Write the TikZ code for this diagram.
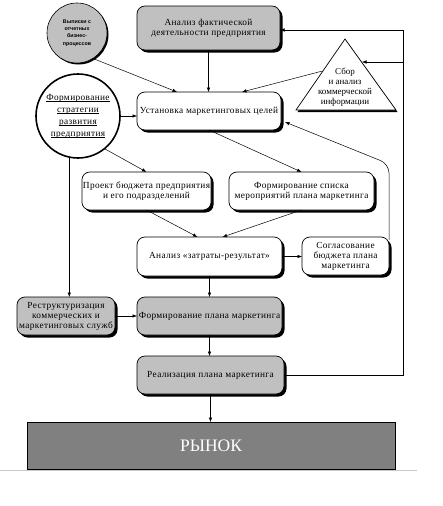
\documentclass[tikz,border=0pt]{standalone}
\usepackage{fontspec}
\setmainfont{Liberation Serif}
\newfontfamily\smallsans{Liberation Sans}
\newfontfamily\boxfont[LetterSpace=4]{Liberation Serif}
\usetikzlibrary{shadows,calc,arrows.meta}
\definecolor{lg}{HTML}{C0C0C0}
\definecolor{dg}{HTML}{808080}
\definecolor{pageline}{HTML}{C8C8C8}
\newcommand{\myul}[1]{\leavevmode\setbox0=\hbox{#1}\rlap{\rule[-1.6pt]{\wd0}{0.5pt}}\box0}
\begin{document}
\begin{tikzpicture}[x=1pt,y=-1pt,
  shd/.style={drop shadow={shadow xshift=2.5pt,shadow yshift=-2.5pt,fill=black,opacity=1}},
  box/.style={draw,line width=0.7pt,rounded corners=8pt,align=center,inner sep=1pt,outer sep=0pt,
    font=\boxfont\fontsize{9.3}{10}\selectfont,shd},
  wbox/.style={box,fill=white},
  gbox/.style={box,fill=lg},
  arr/.style={line width=0.5pt,-{Latex[length=4.5pt,width=3.5pt]}}
]
\useasboundingbox (0,0) rectangle (443,506);

% boxes
\node[gbox,minimum width=143,minimum height=44] (fact) at (208.5,28) {Анализ фактической\\деятельности предприятия};
\node[wbox,minimum width=144,minimum height=38] (ust) at (209,111) {Установка маркетинговых целей};
\node[wbox,minimum width=127,minimum height=38] (pr) at (146.5,191) {Проект бюджета предприятия\\и его подразделений};
\node[wbox,minimum width=145,minimum height=38] (lst) at (301.5,191) {Формирование списка\\мероприятий плана маркетинга};
\node[wbox,minimum width=145,minimum height=39] (an) at (209.5,256.5) {Анализ «затраты-результат»};
\node[wbox,minimum width=87,minimum height=38] (sg) at (345.5,256) {Согласование\\бюджета плана\\маркетинга};
\node[gbox,minimum width=98,minimum height=38] (rs) at (66,316) {Реструктуризация\\коммерческих и\\маркетинговых служб};
\node[gbox,minimum width=145,minimum height=38] (fp) at (209.5,316) {Формирование плана маркетинга};
\node[gbox,minimum width=147,minimum height=38] (re) at (210.5,375) {Реализация плана маркетинга};
\node[draw,line width=0.7pt,fill=dg,minimum width=368,minimum height=47,outer sep=0pt,
  text=white,font=\fontsize{17.5}{20}\selectfont] (ry) at (211,445.5) {РЫНОК};

% circles
\node[circle,draw,line width=0.6pt,fill=lg,minimum size=60,inner sep=0pt,outer sep=0pt,align=center,
  drop shadow={shadow xshift=1.5pt,shadow yshift=-1.5pt,fill=black,opacity=1},
  font=\smallsans\bfseries\fontsize{5.3}{7.3}\selectfont] (sc) at (77,33)
  {Выписки с\\отчетных\\бизнес-\\процессов};
\node[circle,draw,line width=1.6pt,fill=white,minimum size=84,inner sep=0pt,outer sep=0pt,align=center,
  font=\boxfont\fontsize{9.3}{12}\selectfont] (bc) at (78,116)
  {\myul{Формирование}\\\myul{стратегии}\\\myul{развития}\\\myul{предприятия}};

% triangle
\draw[line width=0.7pt,fill=white,drop shadow={shadow xshift=1.5pt,shadow yshift=-2pt,fill=black,opacity=1}]
  (345,39) -- (396,110) -- (296,110) -- cycle;
\node[align=center,inner sep=0pt,font=\fontsize{9}{10}\selectfont] (tri) at (345,87)
  {Сбор\\и анализ\\коммерческой\\информации};
\coordinate (triL) at (322.5,71);
\coordinate (triR) at (362,62);
\coordinate (fbtop) at (403,30);
\coordinate (fbmid) at (403,62);

% connectors
\draw[arr] (sc.-58) -- ($(ust.north west)+(40,0)$);
\draw[arr] (fact.south) -- (fact.south |- ust.north);
\draw[arr] (bc.east) -- (bc.east -| ust.west);
\draw[arr] (triL) -- ($(ust.north)+(33,0)$);
\draw[arr] (re.east) -| (fbtop) -- (fbtop -| fact.east);
\draw[arr] (fbmid) -- (triR);
\draw[arr,rounded corners=9pt] ($(sg.north east)+(0,3)$) -- ++(0,-76) -- ($(ust.south east)+(4,-8)$);
\draw[arr] (bc.-51) -- (pr.north);
\draw[arr] (ust.south) -- (lst.north);
\draw[arr] (pr.south) -- ($(an.north)+(-12,0)$);
\draw[arr] (lst.south) -- ($(an.north)+(13,0)$);
\draw[arr] (an.east) -- (an.east -| sg.west);
\draw[arr] (an.south) -- (an.south |- fp.north);
\draw[arr] (bc.-102) -- (bc.-102 |- rs.north);
\draw[arr] (rs.east) -- (rs.east -| fp.west);
\draw[arr] (fp.south) -- (fp.south |- re.north);
\draw[arr] (re.south) -- (re.south |- ry.north);

% page edge line
\draw[pageline,line width=1pt] (0,470.5) -- (417,470.5);
\end{tikzpicture}
\end{document}
